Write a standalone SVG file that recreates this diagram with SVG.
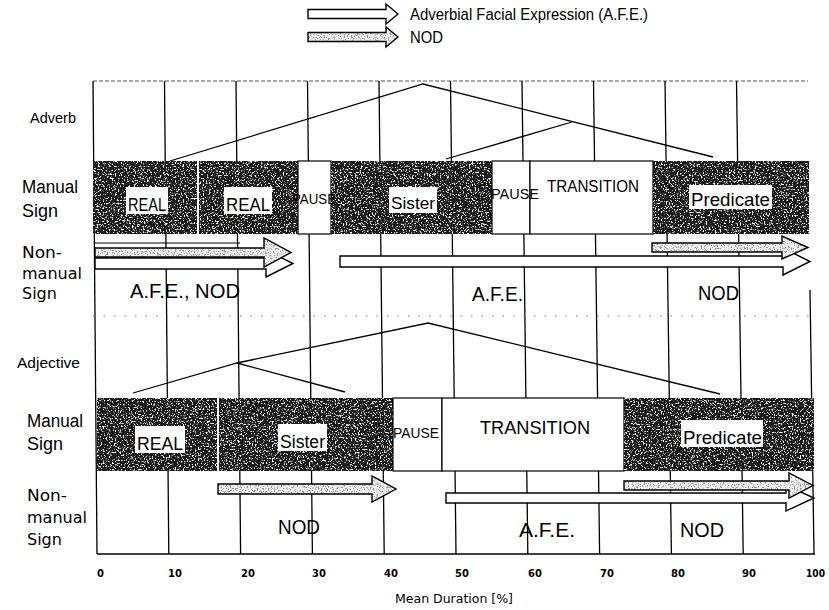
<svg xmlns="http://www.w3.org/2000/svg" width="829" height="610" viewBox="0 0 829 610">
<style>
.sans{font-family:"Liberation Sans",Arial,sans-serif;fill:#000}
.dv{font-family:"DejaVu Sans",Verdana,sans-serif;fill:#000}
.tick{font-family:"DejaVu Sans",Verdana,sans-serif;font-weight:bold;font-size:10px;fill:#000}
.grid{stroke:#000;stroke-width:1.3;fill:none}
.band{fill:#1e1e1e}
.wseg{fill:#fff;stroke:#000;stroke-width:1.2}
.lbox{fill:#fff}
.arrW{fill:#fff;stroke:#000;stroke-width:1.4;stroke-linejoin:miter}
.arrF{fill:#efefef}
.arrS{fill:none;stroke:#000;stroke-width:1.4}
.trend{stroke:#000;stroke-width:1.3;fill:none}
</style>
<defs>
<filter id="speck" x="0" y="0" width="1" height="1">
<feTurbulence type="fractalNoise" baseFrequency="0.65" numOctaves="2" seed="7"/>
<feColorMatrix type="matrix" values="0 0 0 0 1 0 0 0 0 1 0 0 0 0 1 8 0 0 0 -4.6"/>
<feComposite in2="SourceAlpha" operator="in" result="sp"/>
<feMerge><feMergeNode in="SourceGraphic"/><feMergeNode in="sp"/></feMerge>
</filter>
<filter id="speckL" x="0" y="0" width="1" height="1">
<feTurbulence type="fractalNoise" baseFrequency="0.7" numOctaves="2" seed="3"/>
<feColorMatrix type="matrix" values="0 0 0 0 0.3 0 0 0 0 0.3 0 0 0 0 0.3 7 0 0 0 -3.7"/>
<feComposite in2="SourceAlpha" operator="in" result="sp"/>
<feMerge><feMergeNode in="SourceGraphic"/><feMergeNode in="sp"/></feMerge>
</filter>
</defs>
<rect width="829" height="610" fill="#fff"/>

<g id="legend">
<polygon class="arrW" points="308,9.5 386,9.5 386,4 398,14 386,24 386,18.5 308,18.5"/>
<text class="sans" x="410" y="20" font-size="17" textLength="238" lengthAdjust="spacingAndGlyphs">Adverbial  Facial Expression (A.F.E.)</text>
<polygon class="arrF" filter="url(#speckL)" points="308,32.5 386,32.5 386,27 398,37 386,47 386,41.5 308,41.5"/>
<polygon class="arrS" points="308,32.5 386,32.5 386,27 398,37 386,47 386,41.5 308,41.5"/>
<text class="sans" x="410" y="43" font-size="17" textLength="33" lengthAdjust="spacingAndGlyphs">NOD</text>
</g>

<g id="grid">
<line x1="93" y1="81" x2="808" y2="81" stroke="#555" stroke-width="1.2" stroke-dasharray="4 2"/>
<line class="grid" x1="93" y1="81" x2="97" y2="554"/>
<line class="grid" x1="164.5" y1="81" x2="168.8" y2="554"/>
<line class="grid" x1="236" y1="81" x2="240.6" y2="554"/>
<line class="grid" x1="307.5" y1="81" x2="312.4" y2="554"/>
<line class="grid" x1="379" y1="81" x2="384.2" y2="554"/>
<line class="grid" x1="450.5" y1="81" x2="456" y2="554"/>
<line class="grid" x1="522" y1="81" x2="527.8" y2="554"/>
<line class="grid" x1="593.5" y1="81" x2="599.6" y2="554"/>
<line class="grid" x1="665" y1="81" x2="671.4" y2="554"/>
<line class="grid" x1="736.5" y1="81" x2="743.2" y2="554"/>
<line class="grid" x1="810" y1="290" x2="814" y2="554"/>
<line x1="93" y1="316" x2="812" y2="316" stroke="#777" stroke-width="1" stroke-dasharray="1.5 9"/>
<line class="grid" x1="97" y1="554" x2="815" y2="554"/>
<line x1="94" y1="243" x2="240" y2="243" stroke="#000" stroke-width="1"/>
</g>

<g id="labels-left">
<text class="sans" x="30" y="123" font-size="15" textLength="46" lengthAdjust="spacingAndGlyphs">Adverb</text>
<text class="sans" x="22" y="193" font-size="18" textLength="56" lengthAdjust="spacingAndGlyphs">Manual</text>
<text class="sans" x="22" y="217" font-size="18">Sign</text>
<text class="dv" x="22" y="258" font-size="16" textLength="40" lengthAdjust="spacingAndGlyphs">Non-</text>
<text class="dv" x="22" y="279" font-size="16" textLength="60" lengthAdjust="spacingAndGlyphs">manual</text>
<text class="dv" x="22" y="299" font-size="16">Sign</text>
<text class="sans" x="17" y="368" font-size="15.5" textLength="63" lengthAdjust="spacingAndGlyphs">Adjective</text>
<text class="sans" x="27" y="427" font-size="18" textLength="56" lengthAdjust="spacingAndGlyphs">Manual</text>
<text class="sans" x="27" y="450" font-size="18">Sign</text>
<text class="dv" x="27" y="501" font-size="16" textLength="40" lengthAdjust="spacingAndGlyphs">Non-</text>
<text class="dv" x="27" y="523" font-size="16" textLength="60" lengthAdjust="spacingAndGlyphs">manual</text>
<text class="dv" x="27" y="545" font-size="16">Sign</text>
</g>

<g id="adverb-manual">
<rect class="band" filter="url(#speck)" x="93" y="161" width="104" height="73"/>
<rect class="band" filter="url(#speck)" x="199" y="161" width="99" height="73"/>
<rect class="wseg" x="298" y="161" width="33" height="73"/>
<rect class="band" filter="url(#speck)" x="331" y="161" width="161" height="73"/>
<rect class="wseg" x="492" y="161" width="38" height="73"/>
<rect class="wseg" x="530" y="161" width="123" height="73"/>
<rect class="band" filter="url(#speck)" x="653" y="161" width="156" height="73"/>
<rect class="lbox" x="126" y="187" width="42" height="27"/>
<text class="sans" x="128" y="211" font-size="18" textLength="38" lengthAdjust="spacingAndGlyphs">REAL</text>
<rect class="lbox" x="224" y="187" width="48" height="27"/>
<text class="sans" x="226" y="211" font-size="18" textLength="44" lengthAdjust="spacingAndGlyphs">REAL</text>
<text class="sans" x="292" y="204" font-size="15" textLength="44" lengthAdjust="spacingAndGlyphs">PAUSE</text>
<rect class="lbox" x="389" y="187" width="48" height="26"/>
<text class="sans" x="391" y="209" font-size="17" textLength="44" lengthAdjust="spacingAndGlyphs">Sister</text>
<text class="sans" x="491" y="199" font-size="15" textLength="48" lengthAdjust="spacingAndGlyphs">PAUSE</text>
<text class="sans" x="547" y="192" font-size="16" textLength="92" lengthAdjust="spacingAndGlyphs">TRANSITION</text>
<rect class="lbox" x="689" y="185" width="83" height="24"/>
<text class="sans" x="691" y="206" font-size="19" textLength="79" lengthAdjust="spacingAndGlyphs">Predicate</text>
</g>

<g id="adjective-manual">
<rect class="band" filter="url(#speck)" x="97" y="398" width="120" height="73"/>
<rect class="band" filter="url(#speck)" x="219" y="398" width="174" height="73"/>
<rect class="wseg" x="393" y="398" width="49" height="73"/>
<rect class="wseg" x="442" y="398" width="182" height="73"/>
<rect class="band" filter="url(#speck)" x="624" y="398" width="190" height="73"/>
<rect class="lbox" x="135" y="426" width="50" height="27"/>
<text class="sans" x="137" y="450" font-size="19" textLength="46" lengthAdjust="spacingAndGlyphs">REAL</text>
<rect class="lbox" x="278" y="424" width="49" height="27"/>
<text class="sans" x="280" y="448" font-size="18" textLength="45" lengthAdjust="spacingAndGlyphs">Sister</text>
<text class="sans" x="393" y="438" font-size="14" textLength="46" lengthAdjust="spacingAndGlyphs">PAUSE</text>
<text class="sans" x="480" y="434" font-size="19" textLength="110" lengthAdjust="spacingAndGlyphs">TRANSITION</text>
<rect class="lbox" x="681" y="420" width="82" height="27"/>
<text class="sans" x="683" y="444" font-size="19" textLength="79" lengthAdjust="spacingAndGlyphs">Predicate</text>
</g>

<g id="connectors">
<polyline class="trend" points="170,161 423,84 713,157"/>
<line class="trend" x1="446" y1="159" x2="572" y2="122"/>
<polyline class="trend" points="133,393 237,363 345,392"/>
<polyline class="trend" points="237,363 428,323 720,394"/>
</g>

<g id="adverb-nonmanual">
<polygon class="arrW" points="95,258 266,258 266,250 293,263.5 266,277 266,269 95,269"/>
<polygon class="arrF" filter="url(#speckL)" points="95,248 264,248 264,238 291,252.5 264,267 264,257 95,257"/>
<polygon class="arrS" points="95,248 264,248 264,238 291,252.5 264,267 264,257 95,257"/>
<polygon class="arrW" points="340,256 783,256 783,248 810,261.5 783,275 783,267 340,267"/>
<polygon class="arrF" filter="url(#speckL)" points="652,243 782,243 782,236 808,247.5 782,259 782,252 652,252"/>
<polygon class="arrS" points="652,243 782,243 782,236 808,247.5 782,259 782,252 652,252"/>
<text class="sans" x="130" y="298" font-size="20" textLength="110" lengthAdjust="spacingAndGlyphs">A.F.E., NOD</text>
<text class="sans" x="472" y="301" font-size="20" textLength="51" lengthAdjust="spacingAndGlyphs">A.F.E.</text>
<text class="sans" x="698" y="300" font-size="20" textLength="41" lengthAdjust="spacingAndGlyphs">NOD</text>
</g>

<g id="adjective-nonmanual">
<polygon class="arrF" filter="url(#speckL)" points="218,484 372,484 372,476 396,489 372,502 372,494 218,494"/>
<polygon class="arrS" points="218,484 372,484 372,476 396,489 372,502 372,494 218,494"/>
<polygon class="arrW" points="446,493 786,493 786,485 814,498 786,511 786,503 446,503"/>
<polygon class="arrF" filter="url(#speckL)" points="624,481 789,481 789,473 813,485.5 789,498 789,490 624,490"/>
<polygon class="arrS" points="624,481 789,481 789,473 813,485.5 789,498 789,490 624,490"/>
<text class="sans" x="278" y="534" font-size="20" textLength="42" lengthAdjust="spacingAndGlyphs">NOD</text>
<text class="sans" x="519" y="537" font-size="20" textLength="56" lengthAdjust="spacingAndGlyphs">A.F.E.</text>
<text class="sans" x="680" y="537" font-size="20" textLength="44" lengthAdjust="spacingAndGlyphs">NOD</text>
</g>

<g id="axis">
<text class="tick" x="97" y="577">0</text>
<text class="tick" x="168" y="577">10</text>
<text class="tick" x="241" y="577">20</text>
<text class="tick" x="312" y="577">30</text>
<text class="tick" x="384" y="577">40</text>
<text class="tick" x="455" y="577">50</text>
<text class="tick" x="528" y="577">60</text>
<text class="tick" x="600" y="577">70</text>
<text class="tick" x="671" y="577">80</text>
<text class="tick" x="742" y="577">90</text>
<text class="tick" x="806" y="577" textLength="19" lengthAdjust="spacingAndGlyphs">100</text>
<text class="dv" x="395" y="603" font-size="12.5">Mean Duration [%]</text>
</g>
</svg>
